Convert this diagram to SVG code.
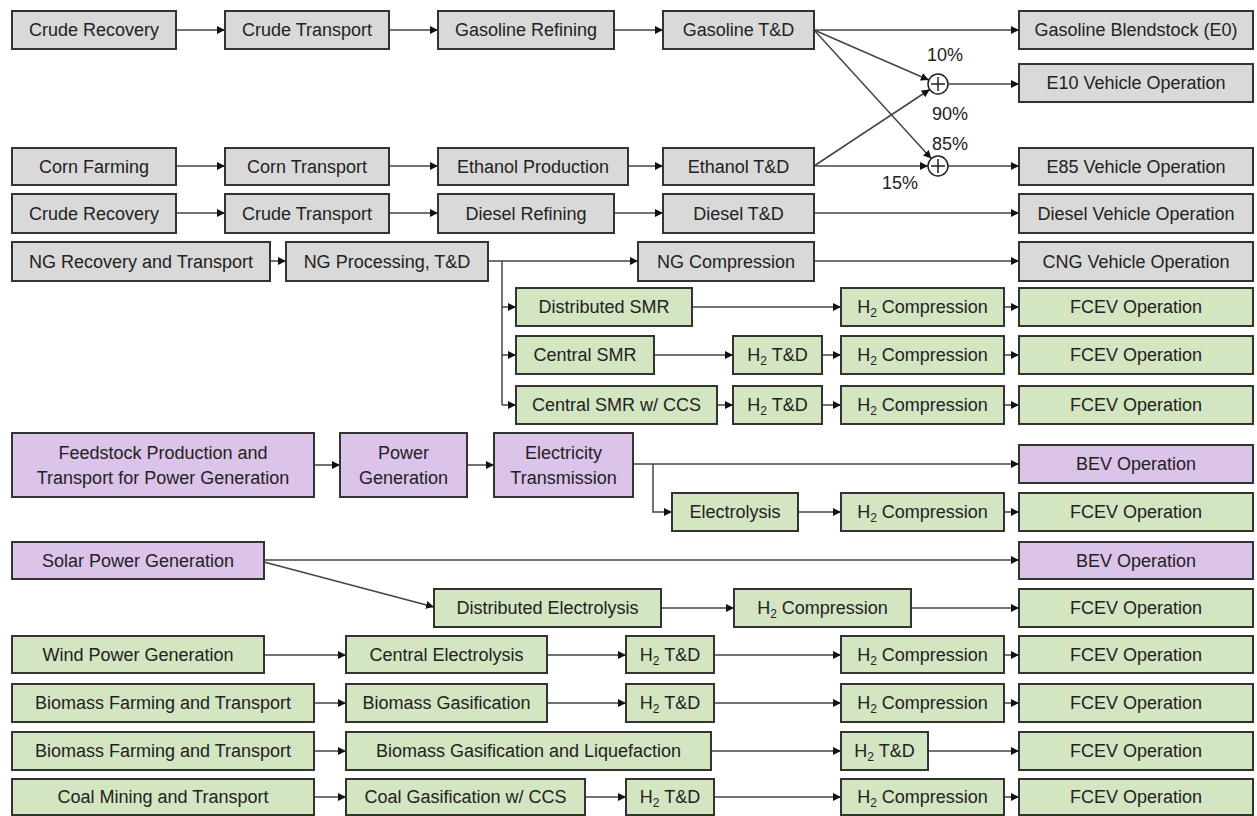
<svg xmlns="http://www.w3.org/2000/svg" width="1257" height="816" viewBox="0 0 1257 816">
<defs>
<marker id="ah" markerUnits="userSpaceOnUse" markerWidth="9" markerHeight="9" refX="8" refY="4" orient="auto"><path d="M0,0 L8,4 L0,8 z" fill="#111"/></marker>
<style>
rect{stroke:#333;stroke-width:2}
.g rect{fill:#d9d9d9}
.n rect{fill:#d3e5c1}
.p rect{fill:#dbc3ea}
text{font-family:"Liberation Sans",Arial,sans-serif;font-size:18px;fill:#222;text-anchor:middle}
#connectors line,#connectors path{stroke:#444;stroke-width:1.5;fill:none}
.a{marker-end:url(#ah)}
.s{font-size:12px}
</style>
</defs>
<rect x="0" y="0" width="1257" height="816" fill="#fff" style="stroke:none"/>
<g id="connectors">
<line class="a" x1="176" y1="30" x2="225" y2="30"/>
<line class="a" x1="389" y1="30" x2="438" y2="30"/>
<line class="a" x1="614" y1="30" x2="663" y2="30"/>
<line class="a" x1="814" y1="30" x2="1019" y2="30"/>
<line class="a" x1="814" y1="30" x2="928.8" y2="80"/>
<line class="a" x1="814" y1="30" x2="931.3" y2="158.6"/>
<line class="a" x1="814" y1="166" x2="929.7" y2="89.5"/>
<line class="a" x1="814" y1="166" x2="928" y2="166"/>
<line class="a" x1="948" y1="84" x2="1019" y2="84"/>
<line class="a" x1="948" y1="166" x2="1019" y2="166"/>
<line class="a" x1="176" y1="166" x2="225" y2="166"/>
<line class="a" x1="389" y1="166" x2="438" y2="166"/>
<line class="a" x1="628" y1="166" x2="663" y2="166"/>
<line class="a" x1="176" y1="213" x2="225" y2="213"/>
<line class="a" x1="389" y1="213" x2="438" y2="213"/>
<line class="a" x1="614" y1="213" x2="663" y2="213"/>
<line class="a" x1="814" y1="213" x2="1019" y2="213"/>
<line class="a" x1="270" y1="261" x2="286" y2="261"/>
<line class="a" x1="488" y1="261" x2="638" y2="261"/>
<line class="a" x1="814" y1="261" x2="1019" y2="261"/>
<path d="M502,261 V405"/>
<line class="a" x1="502" y1="307" x2="516" y2="307"/>
<line class="a" x1="502" y1="355" x2="516" y2="355"/>
<line class="a" x1="502" y1="405" x2="516" y2="405"/>
<line class="a" x1="692" y1="307" x2="841" y2="307"/>
<line class="a" x1="1004" y1="307" x2="1019" y2="307"/>
<line class="a" x1="654" y1="355" x2="733" y2="355"/>
<line class="a" x1="822" y1="355" x2="841" y2="355"/>
<line class="a" x1="1004" y1="355" x2="1019" y2="355"/>
<line class="a" x1="717" y1="405" x2="733" y2="405"/>
<line class="a" x1="822" y1="405" x2="841" y2="405"/>
<line class="a" x1="1004" y1="405" x2="1019" y2="405"/>
<line class="a" x1="314" y1="465" x2="340" y2="465"/>
<line class="a" x1="467" y1="465" x2="494" y2="465"/>
<line class="a" x1="633" y1="464" x2="1019" y2="464"/>
<path class="a" d="M653,464 V512 H672"/>
<line class="a" x1="798" y1="512" x2="841" y2="512"/>
<line class="a" x1="1004" y1="512" x2="1019" y2="512"/>
<line class="a" x1="264" y1="560" x2="1019" y2="560"/>
<line class="a" x1="264" y1="562" x2="434" y2="607"/>
<line class="a" x1="661" y1="608" x2="734" y2="608"/>
<line class="a" x1="911" y1="608" x2="1019" y2="608"/>
<line class="a" x1="264" y1="655" x2="346" y2="655"/>
<line class="a" x1="547" y1="655" x2="626" y2="655"/>
<line class="a" x1="714" y1="655" x2="841" y2="655"/>
<line class="a" x1="1004" y1="655" x2="1019" y2="655"/>
<line class="a" x1="314" y1="703" x2="346" y2="703"/>
<line class="a" x1="547" y1="703" x2="626" y2="703"/>
<line class="a" x1="714" y1="703" x2="841" y2="703"/>
<line class="a" x1="1004" y1="703" x2="1019" y2="703"/>
<line class="a" x1="314" y1="751" x2="346" y2="751"/>
<line class="a" x1="711" y1="751" x2="841" y2="751"/>
<line class="a" x1="928" y1="751" x2="1019" y2="751"/>
<line class="a" x1="314" y1="797" x2="346" y2="797"/>
<line class="a" x1="585" y1="797" x2="626" y2="797"/>
<line class="a" x1="714" y1="797" x2="841" y2="797"/>
<line class="a" x1="1004" y1="797" x2="1019" y2="797"/>
</g>
<g id="sum1"><circle cx="938" cy="84" r="10" fill="#fff" stroke="#222" stroke-width="1.5"/><path d="M931,84 H945 M938,77 V91" stroke="#222" stroke-width="1.5"/></g>
<g id="sum2"><circle cx="938" cy="166" r="10" fill="#fff" stroke="#222" stroke-width="1.5"/><path d="M931,166 H945 M938,159 V173" stroke="#222" stroke-width="1.5"/></g>
<g id="labels">
<text x="945" y="61">10%</text>
<text x="950" y="120">90%</text>
<text x="950" y="150">85%</text>
<text x="900" y="189">15%</text>
</g>
<!-- row 1 -->
<g id="crude1" class="g"><rect x="12" y="11" width="164" height="38"/><text x="94" y="36">Crude Recovery</text></g>
<g id="crudeT1" class="g"><rect x="225" y="11" width="164" height="38"/><text x="307" y="36">Crude Transport</text></g>
<g id="gasRef" class="g"><rect x="438" y="11" width="176" height="38"/><text x="526" y="36">Gasoline Refining</text></g>
<g id="gasTD" class="g"><rect x="663" y="11" width="151" height="38"/><text x="738.5" y="36">Gasoline T&amp;D</text></g>
<g id="e0" class="g"><rect x="1019" y="11" width="234" height="38"/><text x="1136" y="36">Gasoline Blendstock (E0)</text></g>
<g id="e10" class="g"><rect x="1019" y="64" width="234" height="38"/><text x="1136" y="89">E10 Vehicle Operation</text></g>
<!-- row 2 -->
<g id="corn" class="g"><rect x="12" y="148" width="164" height="37"/><text x="94" y="172.5">Corn Farming</text></g>
<g id="cornT" class="g"><rect x="225" y="148" width="164" height="37"/><text x="307" y="172.5">Corn Transport</text></g>
<g id="ethProd" class="g"><rect x="438" y="148" width="190" height="37"/><text x="533" y="172.5">Ethanol Production</text></g>
<g id="ethTD" class="g"><rect x="663" y="148" width="151" height="37"/><text x="738.5" y="172.5">Ethanol T&amp;D</text></g>
<g id="e85" class="g"><rect x="1019" y="148" width="234" height="37"/><text x="1136" y="172.5">E85 Vehicle Operation</text></g>
<!-- row 3 -->
<g id="crude2" class="g"><rect x="12" y="194" width="164" height="39"/><text x="94" y="219.5">Crude Recovery</text></g>
<g id="crudeT2" class="g"><rect x="225" y="194" width="164" height="39"/><text x="307" y="219.5">Crude Transport</text></g>
<g id="dieselRef" class="g"><rect x="438" y="194" width="176" height="39"/><text x="526" y="219.5">Diesel Refining</text></g>
<g id="dieselTD" class="g"><rect x="663" y="194" width="151" height="39"/><text x="738.5" y="219.5">Diesel T&amp;D</text></g>
<g id="dieselV" class="g"><rect x="1019" y="194" width="234" height="39"/><text x="1136" y="219.5">Diesel Vehicle Operation</text></g>
<!-- row 4 -->
<g id="ngRec" class="g"><rect x="12" y="242" width="258" height="39"/><text x="141" y="267.5">NG Recovery and Transport</text></g>
<g id="ngProc" class="g"><rect x="286" y="242" width="202" height="39"/><text x="387" y="267.5">NG Processing, T&amp;D</text></g>
<g id="ngComp" class="g"><rect x="638" y="242" width="176" height="39"/><text x="726" y="267.5">NG Compression</text></g>
<g id="cngV" class="g"><rect x="1019" y="242" width="234" height="39"/><text x="1136" y="267.5">CNG Vehicle Operation</text></g>
<!-- row 5 -->
<g id="dSMR" class="n"><rect x="516" y="288" width="176" height="38"/><text x="604" y="313">Distributed SMR</text></g>
<g id="h2c5" class="n"><rect x="841" y="288" width="163" height="38"/><text x="922.5" y="313">H<tspan class="s" dy="4">2</tspan><tspan dy="-4"> Compression</tspan></text></g>
<g id="fcev5" class="n"><rect x="1019" y="288" width="234" height="38"/><text x="1136" y="313">FCEV Operation</text></g>
<!-- row 6 -->
<g id="cSMR" class="n"><rect x="516" y="336" width="138" height="38"/><text x="585" y="361">Central SMR</text></g>
<g id="h2td6" class="n"><rect x="733" y="336" width="89" height="38"/><text x="777.5" y="361">H<tspan class="s" dy="4">2</tspan><tspan dy="-4"> T&amp;D</tspan></text></g>
<g id="h2c6" class="n"><rect x="841" y="336" width="163" height="38"/><text x="922.5" y="361">H<tspan class="s" dy="4">2</tspan><tspan dy="-4"> Compression</tspan></text></g>
<g id="fcev6" class="n"><rect x="1019" y="336" width="234" height="38"/><text x="1136" y="361">FCEV Operation</text></g>
<!-- row 7 -->
<g id="cSMRccs" class="n"><rect x="516" y="386" width="201" height="38"/><text x="616.5" y="411">Central SMR w/ CCS</text></g>
<g id="h2td7" class="n"><rect x="733" y="386" width="89" height="38"/><text x="777.5" y="411">H<tspan class="s" dy="4">2</tspan><tspan dy="-4"> T&amp;D</tspan></text></g>
<g id="h2c7" class="n"><rect x="841" y="386" width="163" height="38"/><text x="922.5" y="411">H<tspan class="s" dy="4">2</tspan><tspan dy="-4"> Compression</tspan></text></g>
<g id="fcev7" class="n"><rect x="1019" y="386" width="234" height="38"/><text x="1136" y="411">FCEV Operation</text></g>
<!-- row 8 -->
<g id="feed" class="p"><rect x="12" y="433" width="302" height="64"/><text x="163" y="459">Feedstock Production and</text><text x="163" y="484">Transport for Power Generation</text></g>
<g id="powGen" class="p"><rect x="340" y="433" width="127" height="64"/><text x="403.5" y="459">Power</text><text x="403.5" y="484">Generation</text></g>
<g id="elecT" class="p"><rect x="494" y="433" width="139" height="64"/><text x="563.5" y="459">Electricity</text><text x="563.5" y="484">Transmission</text></g>
<g id="bev1" class="p"><rect x="1019" y="445" width="234" height="38"/><text x="1136" y="470">BEV Operation</text></g>
<g id="electrolysis" class="n"><rect x="672" y="493" width="126" height="38"/><text x="735" y="518">Electrolysis</text></g>
<g id="h2c8" class="n"><rect x="841" y="493" width="163" height="38"/><text x="922.5" y="518">H<tspan class="s" dy="4">2</tspan><tspan dy="-4"> Compression</tspan></text></g>
<g id="fcev8" class="n"><rect x="1019" y="493" width="234" height="38"/><text x="1136" y="518">FCEV Operation</text></g>
<!-- row 9 -->
<g id="solar" class="p"><rect x="12" y="542" width="252" height="37"/><text x="138" y="566.5">Solar Power Generation</text></g>
<g id="bev2" class="p"><rect x="1019" y="542" width="234" height="37"/><text x="1136" y="566.5">BEV Operation</text></g>
<g id="dElec" class="n"><rect x="434" y="589" width="227" height="38"/><text x="547.5" y="614">Distributed Electrolysis</text></g>
<g id="h2c9" class="n"><rect x="734" y="589" width="177" height="38"/><text x="822.5" y="614">H<tspan class="s" dy="4">2</tspan><tspan dy="-4"> Compression</tspan></text></g>
<g id="fcev9" class="n"><rect x="1019" y="589" width="234" height="38"/><text x="1136" y="614">FCEV Operation</text></g>
<!-- row 10 -->
<g id="wind" class="n"><rect x="12" y="636" width="252" height="37"/><text x="138" y="660.5">Wind Power Generation</text></g>
<g id="cElec" class="n"><rect x="346" y="636" width="201" height="37"/><text x="446.5" y="660.5">Central Electrolysis</text></g>
<g id="h2td10" class="n"><rect x="626" y="636" width="88" height="37"/><text x="670" y="660.5">H<tspan class="s" dy="4">2</tspan><tspan dy="-4"> T&amp;D</tspan></text></g>
<g id="h2c10" class="n"><rect x="841" y="636" width="163" height="37"/><text x="922.5" y="660.5">H<tspan class="s" dy="4">2</tspan><tspan dy="-4"> Compression</tspan></text></g>
<g id="fcev10" class="n"><rect x="1019" y="636" width="234" height="37"/><text x="1136" y="660.5">FCEV Operation</text></g>
<!-- row 11 -->
<g id="bio1" class="n"><rect x="12" y="684" width="302" height="38"/><text x="163" y="709">Biomass Farming and Transport</text></g>
<g id="bioGas" class="n"><rect x="346" y="684" width="201" height="38"/><text x="446.5" y="709">Biomass Gasification</text></g>
<g id="h2td11" class="n"><rect x="626" y="684" width="88" height="38"/><text x="670" y="709">H<tspan class="s" dy="4">2</tspan><tspan dy="-4"> T&amp;D</tspan></text></g>
<g id="h2c11" class="n"><rect x="841" y="684" width="163" height="38"/><text x="922.5" y="709">H<tspan class="s" dy="4">2</tspan><tspan dy="-4"> Compression</tspan></text></g>
<g id="fcev11" class="n"><rect x="1019" y="684" width="234" height="38"/><text x="1136" y="709">FCEV Operation</text></g>
<!-- row 12 -->
<g id="bio2" class="n"><rect x="12" y="732" width="302" height="38"/><text x="163" y="757">Biomass Farming and Transport</text></g>
<g id="bioGasLiq" class="n"><rect x="346" y="732" width="365" height="38"/><text x="528.5" y="757">Biomass Gasification and Liquefaction</text></g>
<g id="h2td12" class="n"><rect x="841" y="732" width="87" height="38"/><text x="884.5" y="757">H<tspan class="s" dy="4">2</tspan><tspan dy="-4"> T&amp;D</tspan></text></g>
<g id="fcev12" class="n"><rect x="1019" y="732" width="234" height="38"/><text x="1136" y="757">FCEV Operation</text></g>
<!-- row 13 -->
<g id="coal" class="n"><rect x="12" y="779" width="302" height="36"/><text x="163" y="803">Coal Mining and Transport</text></g>
<g id="coalGas" class="n"><rect x="346" y="779" width="239" height="36"/><text x="465.5" y="803">Coal Gasification w/ CCS</text></g>
<g id="h2td13" class="n"><rect x="626" y="779" width="88" height="36"/><text x="670" y="803">H<tspan class="s" dy="4">2</tspan><tspan dy="-4"> T&amp;D</tspan></text></g>
<g id="h2c13" class="n"><rect x="841" y="779" width="163" height="36"/><text x="922.5" y="803">H<tspan class="s" dy="4">2</tspan><tspan dy="-4"> Compression</tspan></text></g>
<g id="fcev13" class="n"><rect x="1019" y="779" width="234" height="36"/><text x="1136" y="803">FCEV Operation</text></g>
</svg>
